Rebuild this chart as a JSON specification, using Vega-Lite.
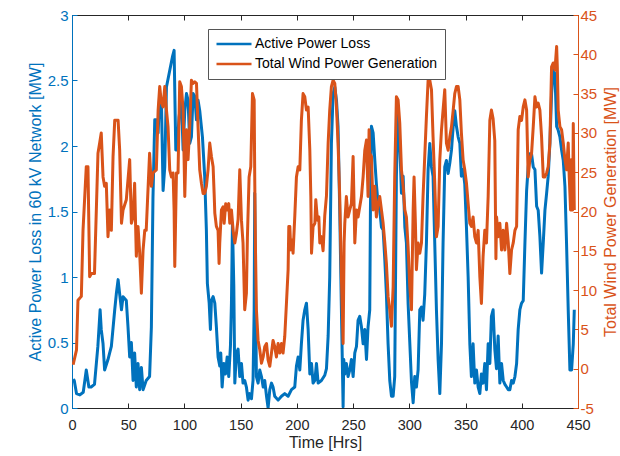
{
  "$schema": "https://vega.github.io/schema/vega-lite/v6.json",
  "width": 506,
  "height": 393,
  "autosize": {"type": "none"},
  "padding": {"left": 72, "top": 15, "right": 42, "bottom": 48},
  "background": "white",
  "config": {
    "font": "Liberation Sans",
    "view": {"stroke": "#262626", "strokeWidth": 1},
    "axis": {"grid": false, "labelFontSize": 15, "titleFontSize": 16, "titleFontWeight": "normal", "tickSize": -5, "domainWidth": 1}
  },
  "datasets": {
    "loss": [
      {"h":1,"v":0.22},{"h":2,"v":0.21},{"h":4,"v":0.11},{"h":7,"v":0.1},{"h":10,"v":0.12},{"h":12.7,"v":0.29},{"h":15,"v":0.16},{"h":17,"v":0.16},{"h":20,"v":0.18},{"h":23,"v":0.47},{"h":25,"v":0.75},{"h":26,"v":0.6},{"h":27.6,"v":0.49},{"h":29,"v":0.29},{"h":32,"v":0.37},{"h":33.5,"v":0.42},{"h":35,"v":0.47},{"h":38,"v":0.75},{"h":39.4,"v":0.87},{"h":41,"v":0.98},{"h":42.4,"v":0.87},{"h":44,"v":0.75},{"h":45.4,"v":0.85},{"h":48.3,"v":0.82},{"h":49.8,"v":0.62},{"h":51.3,"v":0.39},{"h":52.8,"v":0.5},{"h":54.3,"v":0.21},{"h":55.7,"v":0.42},{"h":57.2,"v":0.16},{"h":58.7,"v":0.34},{"h":60.2,"v":0.14},{"h":61.7,"v":0.31},{"h":63.2,"v":0.14},{"h":66,"v":0.21},{"h":69,"v":0.24},{"h":70.6,"v":0.62},{"h":72,"v":1.6},{"h":73.6,"v":2.2},{"h":75,"v":2.2},{"h":76.6,"v":2.1},{"h":78,"v":2.4},{"h":79.5,"v":2.35},{"h":81,"v":1.66},{"h":82.5,"v":1.84},{"h":84,"v":2.45},{"h":87,"v":2.58},{"h":89.3,"v":2.68},{"h":90.8,"v":2.73},{"h":92.3,"v":1.97},{"h":93.4,"v":1.97},{"h":95.2,"v":2.22},{"h":97.3,"v":2.35},{"h":98.8,"v":1.97},{"h":100.3,"v":2.27},{"h":101.8,"v":2.4},{"h":103.2,"v":2.35},{"h":104.7,"v":2.02},{"h":106.2,"v":2.07},{"h":107.7,"v":2.4},{"h":109.2,"v":2.38},{"h":110.7,"v":2.2},{"h":112.1,"v":2.35},{"h":113.6,"v":2.27},{"h":116,"v":2.07},{"h":118,"v":1.77},{"h":119.5,"v":1.36},{"h":120.4,"v":0.95},{"h":122,"v":0.8},{"h":123.1,"v":0.6},{"h":124,"v":0.82},{"h":125.5,"v":0.85},{"h":127,"v":0.8},{"h":128.4,"v":0.62},{"h":129.9,"v":0.39},{"h":131.4,"v":0.32},{"h":132.3,"v":0.42},{"h":133.5,"v":0.16},{"h":135,"v":0.34},{"h":136.5,"v":0.26},{"h":138,"v":0.39},{"h":139.4,"v":0.24},{"h":140.9,"v":0.47},{"h":141.8,"v":0.8},{"h":142.7,"v":1.41},{"h":143.9,"v":0.93},{"h":144.8,"v":0.19},{"h":146.2,"v":0.42},{"h":147.7,"v":0.45},{"h":149.2,"v":0.24},{"h":150.7,"v":0.34},{"h":152.1,"v":0.19},{"h":153.6,"v":0.21},{"h":155.1,"v":0.16},{"h":156.6,"v":0.06},{"h":158,"v":0.11},{"h":159.6,"v":0.07},{"h":161,"v":0.21},{"h":162,"v":0.75},{"h":162.5,"v":1.64},{"h":163.1,"v":0.98},{"h":164,"v":0.24},{"h":165.5,"v":0.19},{"h":167,"v":0.29},{"h":168.5,"v":0.24},{"h":170,"v":0.16},{"h":171.4,"v":0.21},{"h":173,"v":0.09},{"h":174.4,"v":0.0},{"h":175.9,"v":0.14},{"h":177.4,"v":0.19},{"h":178.8,"v":0.16},{"h":180.3,"v":0.09},{"h":183.3,"v":0.06},{"h":186.3,"v":0.09},{"h":189.2,"v":0.11},{"h":192.2,"v":0.09},{"h":195.2,"v":0.14},{"h":198.1,"v":0.16},{"h":199.6,"v":0.32},{"h":201.1,"v":0.39},{"h":202.6,"v":0.29},{"h":204,"v":0.49},{"h":205.5,"v":0.67},{"h":207,"v":0.75},{"h":208.5,"v":0.8},{"h":210,"v":0.6},{"h":211.5,"v":0.26},{"h":213,"v":0.34},{"h":214.4,"v":0.19},{"h":216,"v":0.21},{"h":217.4,"v":0.34},{"h":218.9,"v":0.19},{"h":221.8,"v":0.21},{"h":224.8,"v":0.25},{"h":226.3,"v":0.3},{"h":227.8,"v":0.55},{"h":229.2,"v":1.0},{"h":230.7,"v":2.02},{"h":232.2,"v":2.4},{"h":233.7,"v":2.45},{"h":235.2,"v":2.35},{"h":236.6,"v":2.15},{"h":238.1,"v":1.51},{"h":239.6,"v":0.75},{"h":241.1,"v":0.01},{"h":241.7,"v":0.37},{"h":242.6,"v":0.26},{"h":244,"v":0.34},{"h":245.5,"v":0.24},{"h":247,"v":0.29},{"h":248.5,"v":0.37},{"h":250,"v":0.24},{"h":251.5,"v":0.42},{"h":253,"v":0.47},{"h":254.4,"v":0.67},{"h":255.9,"v":0.7},{"h":257.4,"v":0.62},{"h":258.9,"v":0.49},{"h":260.4,"v":0.6},{"h":261.9,"v":0.37},{"h":263.3,"v":0.62},{"h":264.8,"v":0.75},{"h":265.4,"v":1.51},{"h":266.3,"v":2.15},{"h":267.8,"v":2.1},{"h":269.3,"v":1.89},{"h":270.7,"v":1.71},{"h":272.2,"v":1.56},{"h":273.7,"v":1.51},{"h":275.2,"v":1.38},{"h":276.7,"v":1.36},{"h":278.2,"v":1.13},{"h":279.6,"v":0.87},{"h":281.1,"v":0.49},{"h":282.6,"v":0.21},{"h":284.1,"v":0.09},{"h":285.6,"v":0.09},{"h":287,"v":0.24},{"h":288.5,"v":1.77},{"h":290,"v":2.27},{"h":291.5,"v":2.02},{"h":293,"v":1.64},{"h":294.5,"v":1.77},{"h":296,"v":1.38},{"h":297.4,"v":1.26},{"h":298.9,"v":0.8},{"h":300.4,"v":0.5},{"h":301.9,"v":0.2},{"h":303.4,"v":0.04},{"h":304.8,"v":0.24},{"h":306.3,"v":0.16},{"h":307.8,"v":0.29},{"h":309.3,"v":0.75},{"h":310.8,"v":0.77},{"h":312.2,"v":0.67},{"h":313.7,"v":0.87},{"h":315.2,"v":1.26},{"h":316.7,"v":1.82},{"h":318.2,"v":2.02},{"h":319.7,"v":1.84},{"h":321.1,"v":1.77},{"h":322.6,"v":1.26},{"h":324.1,"v":0.75},{"h":325.6,"v":0.37},{"h":327.1,"v":0.11},{"h":328.6,"v":0.49},{"h":330,"v":1.26},{"h":331.5,"v":1.84},{"h":333,"v":1.89},{"h":334.5,"v":1.79},{"h":336,"v":1.87},{"h":337.5,"v":1.97},{"h":339,"v":2.15},{"h":340.4,"v":2.27},{"h":341.9,"v":2.15},{"h":343.4,"v":2.07},{"h":344.9,"v":2.02},{"h":346.3,"v":1.77},{"h":347.8,"v":1.82},{"h":349.3,"v":1.71},{"h":350.8,"v":1.38},{"h":352.3,"v":1.0},{"h":353.8,"v":0.49},{"h":355.2,"v":0.24},{"h":356.7,"v":0.49},{"h":358.2,"v":0.19},{"h":359.7,"v":0.29},{"h":361.2,"v":0.16},{"h":362.7,"v":0.11},{"h":364.1,"v":0.26},{"h":365.6,"v":0.19},{"h":367.1,"v":0.34},{"h":368.6,"v":0.14},{"h":370.1,"v":0.49},{"h":371.6,"v":0.34},{"h":373,"v":0.7},{"h":374.5,"v":0.75},{"h":376,"v":0.45},{"h":377.5,"v":0.3},{"h":379,"v":0.55},{"h":380.5,"v":0.19},{"h":382,"v":0.34},{"h":383.5,"v":0.21},{"h":385,"v":0.18},{"h":386.5,"v":0.16},{"h":388,"v":0.14},{"h":389.4,"v":0.14},{"h":390.9,"v":0.21},{"h":392.4,"v":0.19},{"h":393.9,"v":0.24},{"h":395.4,"v":0.34},{"h":396.8,"v":0.6},{"h":398.3,"v":0.75},{"h":399.8,"v":0.8},{"h":401.3,"v":0.82},{"h":402.8,"v":1.26},{"h":404.3,"v":1.66},{"h":405.7,"v":1.84},{"h":407.2,"v":1.94},{"h":408.7,"v":1.94},{"h":410.2,"v":1.84},{"h":411.7,"v":1.82},{"h":413.2,"v":1.54},{"h":414.6,"v":1.51},{"h":416.1,"v":1.31},{"h":417.6,"v":1.03},{"h":419.1,"v":1.26},{"h":420.6,"v":1.51},{"h":422.1,"v":1.64},{"h":423.5,"v":1.77},{"h":425,"v":2.02},{"h":426.5,"v":2.4},{"h":428,"v":2.58},{"h":429.5,"v":2.55},{"h":431,"v":2.15},{"h":432.4,"v":2.12},{"h":433.9,"v":2.07},{"h":435.4,"v":1.97},{"h":436.9,"v":1.89},{"h":438.4,"v":1.69},{"h":439.8,"v":1.26},{"h":441.3,"v":0.75},{"h":442.8,"v":0.29},{"h":444.3,"v":0.29},{"h":445.8,"v":0.49},{"h":446.7,"v":0.75}
    ],
    "wind": [
      {"h":1,"v":0.5},{"h":4,"v":2.4},{"h":5.3,"v":8.7},{"h":8.3,"v":9.2},{"h":9.8,"v":17.6},{"h":12.7,"v":25.7},{"h":14.2,"v":25.7},{"h":15.7,"v":11.7},{"h":17.2,"v":12.1},{"h":20,"v":12.1},{"h":23.1,"v":27.4},{"h":24.6,"v":28.7},{"h":26,"v":30},{"h":27.6,"v":24.4},{"h":29,"v":23.2},{"h":30.5,"v":23.6},{"h":32,"v":16.8},{"h":33.5,"v":20.2},{"h":35,"v":17.6},{"h":36.5,"v":27},{"h":38,"v":31.6},{"h":41,"v":31.6},{"h":42.4,"v":27.8},{"h":44,"v":18.5},{"h":45.4,"v":20.2},{"h":48.3,"v":21.5},{"h":51.3,"v":26.6},{"h":52.8,"v":18.5},{"h":54.3,"v":19.3},{"h":55.7,"v":23.6},{"h":57.2,"v":14.3},{"h":58.7,"v":18.1},{"h":60.2,"v":14.7},{"h":61.7,"v":9.6},{"h":63.2,"v":15.1},{"h":64.7,"v":17.6},{"h":66,"v":17.6},{"h":69,"v":27.4},{"h":70.6,"v":23.2},{"h":72,"v":24.9},{"h":75,"v":25.3},{"h":76.6,"v":32.9},{"h":78,"v":35.9},{"h":79.5,"v":33.8},{"h":81,"v":33.3},{"h":82.5,"v":35.9},{"h":84,"v":32.9},{"h":85.4,"v":30.8},{"h":86.9,"v":25.3},{"h":88.4,"v":24.4},{"h":89.9,"v":24.9},{"h":90.8,"v":20.2},{"h":91.4,"v":13},{"h":92.3,"v":20.2},{"h":92.9,"v":24.9},{"h":94.3,"v":24.9},{"h":95.8,"v":36.5},{"h":97.3,"v":35.9},{"h":98.8,"v":32.9},{"h":99.7,"v":26.6},{"h":100.3,"v":21.9},{"h":101.8,"v":30.4},{"h":103.2,"v":26.6},{"h":104.7,"v":30.8},{"h":106.2,"v":36.7},{"h":107.7,"v":36.3},{"h":109.2,"v":36.5},{"h":110.7,"v":36.3},{"h":112.1,"v":30.8},{"h":113.6,"v":25.3},{"h":115.1,"v":23.6},{"h":116.6,"v":22.3},{"h":118,"v":22.3},{"h":119.5,"v":23.2},{"h":121,"v":25.3},{"h":122.5,"v":28.7},{"h":124,"v":27},{"h":125.5,"v":25.7},{"h":126.4,"v":22.3},{"h":127,"v":19.8},{"h":128.4,"v":18.1},{"h":129.9,"v":17.6},{"h":130.8,"v":13.4},{"h":131.4,"v":16},{"h":132.9,"v":20.2},{"h":134.4,"v":20.6},{"h":135.3,"v":18.5},{"h":136.7,"v":21},{"h":138,"v":20.2},{"h":139.4,"v":21},{"h":140.3,"v":18.5},{"h":141.8,"v":20.2},{"h":143.3,"v":17.6},{"h":144.8,"v":16},{"h":146.2,"v":17.2},{"h":147.7,"v":19},{"h":149.2,"v":25.3},{"h":150.7,"v":18.9},{"h":152.1,"v":16},{"h":153.6,"v":7.5},{"h":155.1,"v":9.6},{"h":156,"v":16.8},{"h":157.5,"v":24.4},{"h":159,"v":25.7},{"h":160.5,"v":35},{"h":162,"v":34.2},{"h":162.5,"v":24.4},{"h":163.1,"v":16},{"h":164,"v":7.5},{"h":165.5,"v":3.6},{"h":167,"v":2.4},{"h":168.5,"v":0.7},{"h":170,"v":1.5},{"h":171.4,"v":2.8},{"h":173,"v":3.2},{"h":174.4,"v":1.1},{"h":175.9,"v":0.3},{"h":177.4,"v":2},{"h":178.8,"v":3.6},{"h":180.3,"v":2.8},{"h":181.8,"v":1.5},{"h":183.3,"v":3.2},{"h":184.8,"v":2},{"h":186.3,"v":3.2},{"h":187.7,"v":2},{"h":189.2,"v":4.1},{"h":190.7,"v":8.3},{"h":192.2,"v":12.6},{"h":192.8,"v":18.1},{"h":193.7,"v":18.1},{"h":194.6,"v":15.1},{"h":195.2,"v":16.4},{"h":196.1,"v":16},{"h":196.6,"v":14.7},{"h":198.1,"v":19.3},{"h":199.6,"v":24.4},{"h":201.1,"v":25.7},{"h":202.6,"v":25.3},{"h":204,"v":31.6},{"h":205.5,"v":35},{"h":207,"v":34.6},{"h":208.5,"v":32.9},{"h":210,"v":33.3},{"h":211.5,"v":27.8},{"h":212.4,"v":21.9},{"h":213,"v":14.7},{"h":214.4,"v":18.1},{"h":216,"v":18.5},{"h":216.8,"v":21.5},{"h":218.3,"v":18.9},{"h":219.5,"v":19.3},{"h":220.4,"v":16},{"h":221.8,"v":16.8},{"h":223.3,"v":15},{"h":224.8,"v":19.5},{"h":226.3,"v":22},{"h":227.8,"v":28.7},{"h":229.2,"v":32.9},{"h":230.7,"v":35.9},{"h":232.2,"v":36.7},{"h":233.7,"v":36.3},{"h":235.2,"v":33.3},{"h":236.6,"v":28.7},{"h":238.1,"v":21.9},{"h":239.6,"v":11.7},{"h":241.1,"v":3.2},{"h":242,"v":16},{"h":242.6,"v":18.5},{"h":244,"v":21.9},{"h":245.5,"v":19.3},{"h":247,"v":20.2},{"h":248.5,"v":21},{"h":250,"v":27},{"h":251.5,"v":16},{"h":253,"v":20.2},{"h":254.4,"v":19.3},{"h":255.9,"v":20.6},{"h":257.4,"v":21.9},{"h":258.9,"v":24.4},{"h":260.4,"v":27.8},{"h":261.9,"v":29.1},{"h":263.3,"v":21.9},{"h":264.2,"v":30.4},{"h":264.8,"v":27.4},{"h":266.3,"v":27},{"h":267.8,"v":20.2},{"h":269.3,"v":23.2},{"h":270.7,"v":19.3},{"h":272.2,"v":21},{"h":273.7,"v":21.9},{"h":275.2,"v":20.2},{"h":276.7,"v":18.5},{"h":278.2,"v":16},{"h":279.6,"v":13.4},{"h":281.1,"v":9.2},{"h":282.6,"v":7.5},{"h":284.1,"v":5.4},{"h":285.6,"v":10.4},{"h":287,"v":24.4},{"h":288.5,"v":34.6},{"h":290,"v":34.2},{"h":291.5,"v":31.2},{"h":293,"v":25.3},{"h":294.5,"v":23.2},{"h":296,"v":20.2},{"h":297.4,"v":19.3},{"h":298.9,"v":15.5},{"h":300.4,"v":10.5},{"h":301.9,"v":7.5},{"h":303.4,"v":20.2},{"h":304.2,"v":24.4},{"h":305.4,"v":18.5},{"h":306.3,"v":12.6},{"h":307.8,"v":16},{"h":309.3,"v":14.7},{"h":310.8,"v":16},{"h":312.2,"v":21.9},{"h":313.7,"v":27},{"h":315.2,"v":32.1},{"h":316.7,"v":36.7},{"h":318.2,"v":36.7},{"h":319.7,"v":35.5},{"h":321.1,"v":29.5},{"h":322.6,"v":23.6},{"h":324.1,"v":16.8},{"h":325.6,"v":18.1},{"h":327.1,"v":26.6},{"h":328.6,"v":30.4},{"h":330,"v":32.9},{"h":331.5,"v":35.5},{"h":333,"v":28.7},{"h":334.5,"v":27.8},{"h":336,"v":29.5},{"h":337.5,"v":30.8},{"h":339,"v":32.9},{"h":340.4,"v":35},{"h":341.9,"v":35.9},{"h":343.4,"v":35.9},{"h":344.9,"v":34.2},{"h":346.3,"v":30},{"h":347.8,"v":26.6},{"h":349.3,"v":25.3},{"h":350.8,"v":23.6},{"h":352.3,"v":21},{"h":353.8,"v":18.5},{"h":355.2,"v":18.1},{"h":356.7,"v":19.3},{"h":358.2,"v":16.8},{"h":359.7,"v":16},{"h":361.2,"v":17.6},{"h":362.7,"v":11.7},{"h":364.1,"v":8.3},{"h":365.6,"v":14.3},{"h":367.1,"v":17.6},{"h":368.6,"v":16},{"h":370.1,"v":21.9},{"h":371.6,"v":31.6},{"h":373,"v":32.9},{"h":374.5,"v":31.8},{"h":376,"v":29},{"h":377,"v":14},{"h":377.6,"v":19.3},{"h":379,"v":16.8},{"h":380.5,"v":18.5},{"h":382,"v":15.1},{"h":383.5,"v":17.6},{"h":385,"v":15.1},{"h":386.5,"v":18.5},{"h":388,"v":16},{"h":389.4,"v":12.1},{"h":390.9,"v":15.1},{"h":392.4,"v":16},{"h":393.9,"v":17.6},{"h":395.4,"v":18.1},{"h":396.8,"v":30.4},{"h":398.3,"v":32.1},{"h":399.8,"v":31.6},{"h":401.3,"v":33.3},{"h":402.8,"v":34.2},{"h":404.3,"v":32.9},{"h":405.7,"v":24.4},{"h":407.2,"v":26.6},{"h":408.7,"v":27.4},{"h":410.2,"v":30.8},{"h":411.7,"v":34.6},{"h":413.2,"v":33.3},{"h":414.6,"v":33.8},{"h":416.1,"v":32.9},{"h":417.6,"v":29.5},{"h":419.1,"v":24.4},{"h":420.6,"v":24.4},{"h":422.1,"v":24.9},{"h":423.5,"v":25.7},{"h":425,"v":28.7},{"h":426.5,"v":38.4},{"h":428,"v":38.9},{"h":429.5,"v":38},{"h":431,"v":41},{"h":431.6,"v":38.4},{"h":432.4,"v":32.9},{"h":433.9,"v":30.8},{"h":435.4,"v":30.4},{"h":436.9,"v":28.7},{"h":438.4,"v":26.6},{"h":439.8,"v":25.3},{"h":441.3,"v":28.7},{"h":442.2,"v":24.4},{"h":443.4,"v":20.2},{"h":444.3,"v":26.6},{"h":445.2,"v":20.2},{"h":445.8,"v":31.2},{"h":446.7,"v":20.2}
    ]
  },
  "layer": [
    {
      "data": {"name": "loss"},
      "mark": {"type": "line", "strokeWidth": 3, "strokeJoin": "round", "clip": true},
      "encoding": {
        "x": {"field": "h", "type": "quantitative", "scale": {"domain": [0, 450], "nice": false},
          "axis": {"title": "Time [Hrs]", "orient": "bottom", "values": [0,50,100,150,200,250,300,350,400,450], "labelFontSize": 14.5, "labelColor": "#262626", "titleColor": "#262626", "domainColor": "#262626", "tickColor": "#262626", "labelPadding": 15, "titlePadding": 3, "labelFlush": false}},
        "y": {"field": "v", "type": "quantitative", "scale": {"domain": [0, 3], "nice": false},
          "axis": {"title": "Active Power Loss in 60 kV Network [MW]", "orient": "left", "values": [0,0.5,1,1.5,2,2.5,3], "format": "~g", "labelColor": "#0072BD", "titleColor": "#0072BD", "domainColor": "#0072BD", "tickColor": "#0072BD", "labelPadding": 9, "titlePadding": 4}},
        "color": {"datum": "Active Power Loss", "type": "nominal",
          "scale": {"domain": ["Active Power Loss", "Total Wind Power Generation"], "range": ["#0072BD", "#D95319"]},
          "legend": {"title": null, "orient": "none", "legendX": 136, "legendY": 14, "fillColor": "white", "strokeColor": "#555555", "padding": 7, "labelFontSize": 14, "labelLimit": 0, "labelColor": "#000000", "symbolType": "M-1,0H1", "symbolStrokeWidth": 2.5, "symbolSize": 1225, "clipHeight": 16, "rowPadding": 4, "labelOffset": 2}}
      }
    },
    {
      "data": {"name": "wind"},
      "mark": {"type": "line", "strokeWidth": 3, "strokeJoin": "round", "clip": true},
      "encoding": {
        "x": {"field": "h", "type": "quantitative",
          "axis": {"orient": "top", "title": null, "labels": false, "domain": false, "values": [0,50,100,150,200,250,300,350,400,450], "tickColor": "#262626"}},
        "y": {"field": "v", "type": "quantitative", "scale": {"domain": [-5, 45], "nice": false},
          "axis": {"title": "Total Wind Power Generation [MW]", "orient": "right", "values": [-5,0,5,10,15,20,25,30,35,40,45], "labelExpr": "'' + datum.value", "labelColor": "#D95319", "titleColor": "#D95319", "domainColor": "#D95319", "tickColor": "#D95319", "labelPadding": 7, "titlePadding": 6, "titleAngle": 270, "titleBaseline": "top"}},
        "color": {"datum": "Total Wind Power Generation", "type": "nominal"}
      }
    }
  ],
  "resolve": {"scale": {"y": "independent"}, "axis": {"x": "independent"}}
}
